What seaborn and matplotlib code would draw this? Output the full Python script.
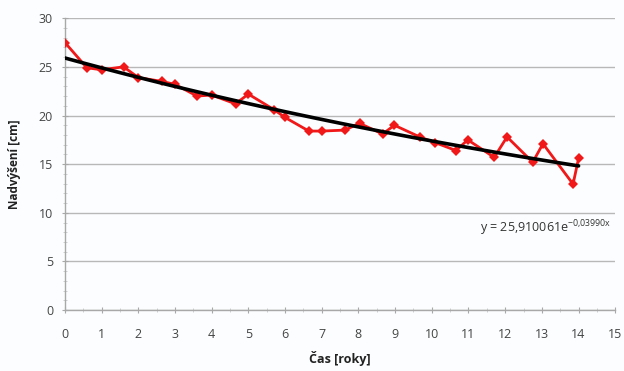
import numpy as np
import pandas as pd
import matplotlib
matplotlib.use("Agg")
import matplotlib.pyplot as plt
from matplotlib.ticker import MultipleLocator
import seaborn as sns

# --- Data ---
cas = [0.0, 0.6, 1.0, 1.6, 2.0, 2.65, 3.0, 3.6, 4.0, 4.65, 5.0, 5.7, 6.0,
       6.65, 7.0, 7.63, 8.03, 8.66, 8.98, 9.67, 10.1, 10.66, 10.98, 11.7,
       12.05, 12.75, 13.03, 13.85, 14.0]
nadvyseni = [27.5, 24.9, 24.7, 25.0, 23.9, 23.5, 23.2, 22.0, 22.1, 21.2, 22.2,
             20.6, 19.8, 18.4, 18.4, 18.5, 19.2, 18.1, 19.0, 17.8, 17.2, 16.4,
             17.5, 15.7, 17.8, 15.2, 17.1, 12.95, 15.6]

# exponential trend shown on the chart
TREND_A = 25.910061
TREND_K = 0.03990
trend_x = np.linspace(0, 14, 50)

df = pd.DataFrame({"Cas": cas, "Nadvyseni": nadvyseni})
trend_df = pd.DataFrame({"Cas": trend_x, "Trend": TREND_A * np.exp(-TREND_K * trend_x)})

sns.set_style("white")
plt.rcParams["font.family"] = ["Open Sans", "DejaVu Sans"]

fig = plt.figure(figsize=(6.24, 3.71), dpi=100)
fig.patch.set_facecolor("#fbfdfe")
ax = fig.add_axes([0.104, 0.164, 0.882, 0.787])
ax.set_facecolor("#fbfdfe")

sns.lineplot(data=df, x="Cas", y="Nadvyseni", color="#f01818", marker="D",
             markersize=5, markeredgewidth=0, linewidth=2.0, ax=ax, zorder=3)
sns.lineplot(data=trend_df, x="Cas", y="Trend", color="black", linewidth=2.6,
             ax=ax, zorder=4)

ax.set_xlim(0, 15)
ax.set_ylim(0, 30)
ax.xaxis.set_major_locator(MultipleLocator(1))
ax.xaxis.set_minor_locator(MultipleLocator(0.5))
ax.yaxis.set_major_locator(MultipleLocator(5))
ax.yaxis.set_minor_locator(MultipleLocator(1))
ax.grid(True, axis="y", which="major", color="#b8b8b8", linewidth=1.0)
ax.set_axisbelow(True)

for side in ["top", "right"]:
    ax.spines[side].set_visible(False)
for side in ["left", "bottom"]:
    ax.spines[side].set_color("#a8a8a8")
    ax.spines[side].set_linewidth(1.0)

ax.tick_params(axis="both", which="major", direction="inout", length=5,
               color="#a8a8a8", labelsize=9, labelcolor="#444444", pad=6)
ax.tick_params(axis="both", which="minor", direction="inout", length=3,
               color="#c8c8c8")
ax.tick_params(axis="x", which="both", bottom=True)
ax.tick_params(axis="y", which="both", left=True)
ax.tick_params(axis="x", which="major", pad=10)

ax.set_xlabel("Čas [roky]", fontsize=9, fontweight="bold", color="#222222")
ax.set_ylabel("Nadvýšení [cm]", fontsize=8.5, fontweight="bold", color="#222222")
ax.xaxis.set_label_coords(0.5, -0.14)
ax.yaxis.set_label_coords(-0.08, 0.5)

ax.text(14.9, 8.4, r"y = 25,910061e$^{\mathregular{-0{,}03990x}}$", fontsize=9,
        color="#333333", ha="right", va="center")

fig.savefig("out.png", dpi=100, facecolor=fig.get_facecolor())
